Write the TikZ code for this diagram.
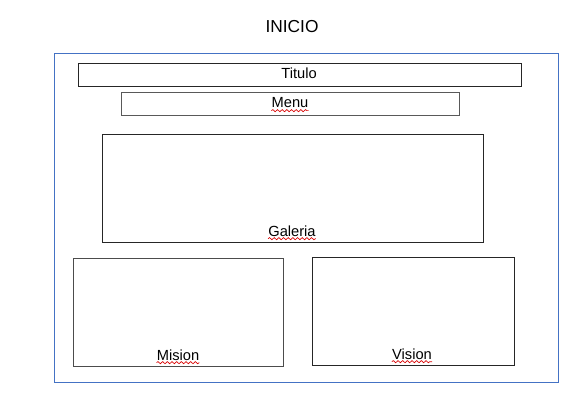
\documentclass[tikz,border=0pt]{standalone}
\usepackage{fontspec}
\setmainfont{Liberation Sans}
\usetikzlibrary{decorations.pathmorphing}
\definecolor{frameblue}{RGB}{68,114,196}
\begin{document}
\begin{tikzpicture}[x=0.75pt,y=-0.75pt,
  box/.style={draw=black!85,line width=0.7pt},
  lbl/.style={font=\fontsize{11}{13}\selectfont,inner sep=0pt,anchor=base},
  squig/.style={draw=red!85!black,line width=0.5pt,decorate,decoration={snake,amplitude=0.8pt,segment length=3.5pt}}]
\useasboundingbox (0,0) rectangle (585,417);
\node[font=\fontsize{13}{15}\selectfont] (title) at (292,27) {INICIO};
\draw[draw=frameblue,line width=0.65pt] (54,53) rectangle (558,382);
\draw[box] (78,63) rectangle (521,86);
\node[lbl] (titulo) at (299,79) {Titulo};
\draw[box,draw=black!65] (121,92) rectangle (459,115);
\node[lbl] (menu) at (290,108) {Menu};
\draw[box] (102,134) rectangle (483,242);
\node[lbl] (galeria) at (292,236) {Galeria};
\draw[box,draw=black!70] (73,258) rectangle (283,366);
\node[lbl] (mision) at (178,360) {Mision};
\draw[box] (312,257) rectangle (514,365);
\node[lbl] (vision) at (412,359) {Vision};
\draw[squig] ([yshift=-2pt]menu.base west) -- ([yshift=-2pt]menu.base east);
\draw[squig] ([yshift=-2pt]galeria.base west) -- ([yshift=-2pt]galeria.base east);
\draw[squig] ([yshift=-2pt]mision.base west) -- ([yshift=-2pt]mision.base east);
\draw[squig] ([yshift=-2pt]vision.base west) -- ([yshift=-2pt]vision.base east);
\end{tikzpicture}
\end{document}
